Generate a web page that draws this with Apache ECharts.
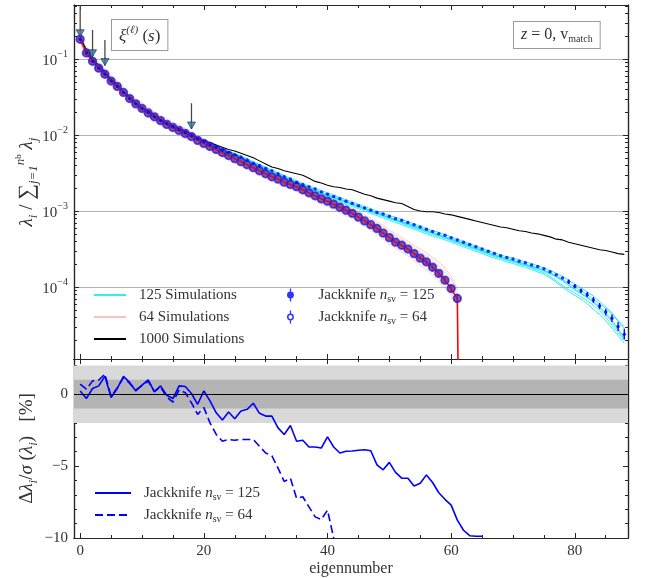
<!DOCTYPE html>
<html><head><meta charset="utf-8">
<script src="https://cdn.jsdelivr.net/npm/echarts@6/dist/echarts.min.js"></script>
<style>html,body{margin:0;padding:0;background:#fff}#c{width:648px;height:578px}</style>
</head><body><div id="c"></div>
<script>
// ---------------- DATA (log10 of normalised eigenvalue, index = eigennumber) ----------------
const sim1000Log = [-0.72,-0.88,-1.00,-1.08,-1.17,-1.27,-1.33,-1.43,-1.50,-1.58,-1.64,-1.69,-1.74,-1.80,-1.84,-1.88,-1.92,-1.95,-1.99,-2.05,-2.08,-2.10,-2.13,-2.16,-2.19,-2.21,-2.24,-2.27,-2.30,-2.34,-2.38,-2.42,-2.44,-2.47,-2.49,-2.51,-2.53,-2.57,-2.61,-2.63,-2.66,-2.68,-2.69,-2.71,-2.72,-2.75,-2.78,-2.80,-2.83,-2.85,-2.87,-2.89,-2.90,-2.94,-2.98,-3.00,-3.01,-3.01,-3.02,-3.04,-3.05,-3.07,-3.09,-3.11,-3.13,-3.15,-3.17,-3.19,-3.21,-3.22,-3.24,-3.26,-3.27,-3.29,-3.30,-3.32,-3.34,-3.37,-3.38,-3.41,-3.43,-3.45,-3.47,-3.49,-3.51,-3.52,-3.54,-3.56,-3.57];
const jack125Log = [-0.74,-0.92,-1.03,-1.12,-1.20,-1.29,-1.36,-1.44,-1.52,-1.59,-1.65,-1.70,-1.76,-1.81,-1.85,-1.89,-1.93,-1.97,-2.01,-2.05,-2.09,-2.13,-2.16,-2.20,-2.23,-2.26,-2.29,-2.33,-2.37,-2.40,-2.44,-2.47,-2.51,-2.55,-2.58,-2.62,-2.65,-2.68,-2.71,-2.75,-2.78,-2.81,-2.84,-2.87,-2.90,-2.93,-2.96,-2.99,-3.02,-3.04,-3.07,-3.10,-3.12,-3.15,-3.18,-3.21,-3.24,-3.27,-3.30,-3.32,-3.35,-3.38,-3.41,-3.44,-3.47,-3.50,-3.53,-3.56,-3.59,-3.61,-3.63,-3.66,-3.68,-3.71,-3.73,-3.76,-3.80,-3.84,-3.88,-3.93,-3.99,-4.05,-4.10,-4.17,-4.25,-4.33,-4.41,-4.52,-4.62];
const jack64Log = [-0.74,-0.92,-1.03,-1.12,-1.20,-1.29,-1.36,-1.44,-1.52,-1.59,-1.65,-1.71,-1.76,-1.81,-1.86,-1.90,-1.94,-1.98,-2.02,-2.07,-2.11,-2.15,-2.19,-2.23,-2.27,-2.31,-2.35,-2.39,-2.43,-2.47,-2.51,-2.55,-2.58,-2.62,-2.65,-2.68,-2.72,-2.76,-2.80,-2.84,-2.87,-2.91,-2.95,-2.99,-3.03,-3.08,-3.13,-3.18,-3.23,-3.29,-3.35,-3.41,-3.45,-3.50,-3.56,-3.62,-3.67,-3.74,-3.82,-3.91,-4.02,-4.15];
const mean64Tail = [1e-12]; // eigenvalue collapses to ~0 after the last one
// jackknife error bars (half width in dex) for the tail points where they are visible
const jack125ErrFrom = 79;
const jack125ErrLog = [0.03,0.03,0.03,0.035,0.04,0.04,0.045,0.05,0.06,0.07];
const jack64ErrFrom = 55;
const jack64ErrLog = [0.025,0.03,0.03,0.035,0.04,0.05,0.06,0.09];
const sim125aLog = [-0.72,-0.89,-1.01,-1.10,-1.19,-1.27,-1.35,-1.43,-1.51,-1.58,-1.64,-1.70,-1.75,-1.80,-1.84,-1.88,-1.92,-1.96,-2.00,-2.04,-2.08,-2.12,-2.15,-2.19,-2.22,-2.26,-2.29,-2.33,-2.37,-2.40,-2.44,-2.48,-2.52,-2.56,-2.59,-2.63,-2.66,-2.69,-2.72,-2.76,-2.79,-2.82,-2.85,-2.88,-2.91,-2.94,-2.97,-3.00,-3.03,-3.06,-3.09,-3.12,-3.14,-3.17,-3.20,-3.23,-3.26,-3.29,-3.32,-3.34,-3.37,-3.40,-3.43,-3.46,-3.49,-3.52,-3.55,-3.58,-3.61,-3.63,-3.65,-3.68,-3.70,-3.73,-3.75,-3.78,-3.82,-3.86,-3.91,-3.97,-4.03,-4.08,-4.13,-4.19,-4.26,-4.34,-4.43,-4.55,-4.66];
const sim125bLog = [-0.70,-0.87,-1.00,-1.09,-1.17,-1.26,-1.34,-1.42,-1.50,-1.57,-1.63,-1.69,-1.74,-1.79,-1.84,-1.88,-1.92,-1.96,-2.00,-2.04,-2.07,-2.11,-2.14,-2.18,-2.21,-2.25,-2.28,-2.32,-2.36,-2.39,-2.43,-2.47,-2.50,-2.54,-2.58,-2.62,-2.65,-2.68,-2.72,-2.75,-2.78,-2.81,-2.84,-2.87,-2.90,-2.93,-2.96,-2.99,-3.02,-3.05,-3.08,-3.11,-3.14,-3.16,-3.19,-3.22,-3.25,-3.28,-3.31,-3.34,-3.36,-3.39,-3.42,-3.45,-3.48,-3.51,-3.54,-3.57,-3.60,-3.62,-3.65,-3.67,-3.70,-3.72,-3.75,-3.78,-3.81,-3.85,-3.90,-3.95,-4.00,-4.05,-4.10,-4.16,-4.22,-4.28,-4.36,-4.45,-4.55];
const sim125cLog = [-0.73,-0.90,-1.02,-1.11,-1.20,-1.28,-1.36,-1.44,-1.52,-1.59,-1.65,-1.71,-1.76,-1.81,-1.85,-1.89,-1.93,-1.97,-2.01,-2.05,-2.09,-2.13,-2.17,-2.20,-2.24,-2.27,-2.31,-2.35,-2.38,-2.42,-2.46,-2.50,-2.53,-2.57,-2.61,-2.64,-2.67,-2.71,-2.74,-2.77,-2.80,-2.83,-2.86,-2.89,-2.92,-2.95,-2.98,-3.01,-3.04,-3.07,-3.10,-3.13,-3.16,-3.19,-3.22,-3.25,-3.28,-3.31,-3.33,-3.36,-3.39,-3.42,-3.45,-3.48,-3.51,-3.54,-3.57,-3.60,-3.62,-3.65,-3.67,-3.70,-3.72,-3.75,-3.78,-3.81,-3.86,-3.92,-3.98,-4.03,-4.08,-4.13,-4.18,-4.24,-4.31,-4.40,-4.50,-4.60,-4.70];
const sim125dLog = [-0.71,-0.88,-1.01,-1.10,-1.18,-1.27,-1.35,-1.43,-1.51,-1.58,-1.64,-1.70,-1.75,-1.80,-1.85,-1.89,-1.93,-1.97,-2.01,-2.05,-2.08,-2.12,-2.16,-2.19,-2.23,-2.26,-2.30,-2.34,-2.37,-2.41,-2.45,-2.49,-2.52,-2.55,-2.59,-2.63,-2.66,-2.70,-2.73,-2.76,-2.79,-2.82,-2.85,-2.88,-2.91,-2.94,-2.97,-3.00,-3.03,-3.06,-3.09,-3.12,-3.15,-3.18,-3.21,-3.24,-3.27,-3.29,-3.32,-3.35,-3.38,-3.41,-3.44,-3.47,-3.50,-3.53,-3.56,-3.59,-3.61,-3.64,-3.66,-3.69,-3.71,-3.74,-3.76,-3.79,-3.83,-3.87,-3.92,-3.98,-4.04,-4.09,-4.14,-4.20,-4.28,-4.36,-4.46,-4.57,-4.68];
const sim125eLog = [-0.71,-0.87,-0.99,-1.08,-1.16,-1.25,-1.33,-1.41,-1.49,-1.56,-1.62,-1.68,-1.73,-1.78,-1.83,-1.87,-1.91,-1.95,-1.99,-2.03,-2.07,-2.11,-2.14,-2.18,-2.21,-2.24,-2.28,-2.31,-2.35,-2.39,-2.42,-2.46,-2.50,-2.53,-2.57,-2.60,-2.64,-2.67,-2.70,-2.73,-2.76,-2.79,-2.82,-2.85,-2.88,-2.91,-2.94,-2.97,-3.00,-3.03,-3.06,-3.08,-3.11,-3.14,-3.17,-3.20,-3.23,-3.26,-3.28,-3.31,-3.34,-3.37,-3.40,-3.43,-3.46,-3.49,-3.52,-3.55,-3.58,-3.60,-3.62,-3.64,-3.67,-3.69,-3.72,-3.75,-3.78,-3.82,-3.86,-3.91,-3.96,-4.01,-4.06,-4.12,-4.19,-4.26,-4.34,-4.44,-4.52];
const sim125fLog = [-0.75,-0.93,-1.05,-1.14,-1.22,-1.30,-1.38,-1.46,-1.54,-1.61,-1.67,-1.73,-1.78,-1.83,-1.87,-1.91,-1.95,-1.99,-2.03,-2.07,-2.11,-2.15,-2.19,-2.22,-2.26,-2.29,-2.33,-2.37,-2.40,-2.44,-2.48,-2.52,-2.55,-2.59,-2.63,-2.66,-2.69,-2.72,-2.76,-2.79,-2.82,-2.85,-2.88,-2.91,-2.94,-2.97,-3.00,-3.03,-3.06,-3.09,-3.12,-3.15,-3.18,-3.21,-3.24,-3.27,-3.30,-3.33,-3.35,-3.38,-3.41,-3.44,-3.47,-3.50,-3.53,-3.56,-3.59,-3.62,-3.64,-3.67,-3.69,-3.72,-3.74,-3.77,-3.80,-3.83,-3.88,-3.94,-4.00,-4.06,-4.11,-4.16,-4.22,-4.29,-4.36,-4.44,-4.54,-4.64,-4.74];
const sim64aLog = [-0.70,-0.87,-0.99,-1.08,-1.16,-1.25,-1.33,-1.40,-1.48,-1.56,-1.62,-1.67,-1.73,-1.78,-1.83,-1.87,-1.91,-1.95,-1.99,-2.04,-2.08,-2.12,-2.16,-2.19,-2.23,-2.27,-2.31,-2.35,-2.39,-2.43,-2.47,-2.51,-2.55,-2.58,-2.61,-2.65,-2.69,-2.72,-2.76,-2.80,-2.83,-2.87,-2.91,-2.95,-2.99,-3.03,-3.08,-3.12,-3.17,-3.22,-3.28,-3.33,-3.38,-3.43,-3.48,-3.54,-3.59,-3.65,-3.72,-3.80,-3.90,-4.05];
const sim64bLog = [-0.75,-0.93,-1.05,-1.14,-1.22,-1.31,-1.38,-1.46,-1.54,-1.61,-1.67,-1.73,-1.78,-1.83,-1.88,-1.92,-1.96,-2.00,-2.05,-2.10,-2.14,-2.18,-2.22,-2.26,-2.30,-2.34,-2.38,-2.42,-2.46,-2.50,-2.54,-2.58,-2.61,-2.65,-2.68,-2.72,-2.76,-2.80,-2.84,-2.88,-2.91,-2.95,-2.99,-3.03,-3.07,-3.12,-3.17,-3.22,-3.27,-3.33,-3.39,-3.45,-3.50,-3.55,-3.61,-3.67,-3.73,-3.80,-3.88,-3.97,-4.07,-4.20];
const sim64cLog = [-0.72,-0.88,-1.00,-1.10,-1.17,-1.25,-1.34,-1.43,-1.50,-1.56,-1.63,-1.70,-1.76,-1.80,-1.84,-1.90,-1.95,-1.98,-2.01,-2.05,-2.10,-2.14,-2.18,-2.22,-2.26,-2.30,-2.34,-2.38,-2.42,-2.46,-2.50,-2.54,-2.57,-2.61,-2.65,-2.68,-2.71,-2.75,-2.79,-2.83,-2.87,-2.90,-2.94,-2.98,-3.02,-3.06,-3.11,-3.16,-3.21,-3.27,-3.32,-3.38,-3.44,-3.49,-3.54,-3.60,-3.66,-3.72,-3.79,-3.87,-3.97,-4.10];
const sim64dLog = [-0.73,-0.90,-1.03,-1.12,-1.21,-1.28,-1.35,-1.44,-1.53,-1.60,-1.66,-1.71,-1.75,-1.82,-1.87,-1.90,-1.93,-1.97,-2.03,-2.08,-2.12,-2.16,-2.20,-2.24,-2.28,-2.32,-2.36,-2.40,-2.44,-2.48,-2.52,-2.56,-2.59,-2.63,-2.66,-2.70,-2.74,-2.78,-2.82,-2.85,-2.89,-2.93,-2.97,-3.01,-3.05,-3.10,-3.14,-3.19,-3.25,-3.31,-3.36,-3.42,-3.47,-3.52,-3.58,-3.64,-3.70,-3.77,-3.85,-3.93,-4.04,-4.16];
const sim64eLog = [-0.69,-0.85,-0.97,-1.05,-1.13,-1.22,-1.30,-1.37,-1.45,-1.52,-1.58,-1.63,-1.69,-1.74,-1.79,-1.83,-1.87,-1.91,-1.96,-2.01,-2.05,-2.09,-2.13,-2.17,-2.21,-2.25,-2.29,-2.33,-2.37,-2.41,-2.45,-2.49,-2.52,-2.56,-2.59,-2.62,-2.66,-2.70,-2.74,-2.77,-2.80,-2.84,-2.88,-2.92,-2.96,-3.00,-3.05,-3.10,-3.14,-3.19,-3.25,-3.30,-3.35,-3.40,-3.45,-3.50,-3.55,-3.61,-3.67,-3.75,-3.86,-4.02];
const sim64fLog = [-0.78,-0.97,-1.08,-1.17,-1.25,-1.34,-1.41,-1.49,-1.57,-1.64,-1.70,-1.76,-1.81,-1.86,-1.91,-1.96,-2.00,-2.04,-2.08,-2.13,-2.17,-2.21,-2.25,-2.29,-2.33,-2.37,-2.41,-2.45,-2.49,-2.53,-2.57,-2.61,-2.64,-2.68,-2.71,-2.74,-2.78,-2.82,-2.86,-2.90,-2.94,-2.98,-3.02,-3.06,-3.10,-3.15,-3.20,-3.25,-3.31,-3.37,-3.43,-3.49,-3.54,-3.59,-3.65,-3.71,-3.77,-3.84,-3.92,-4.01,-4.11,-4.24];
// residuals (lower panel), percent
const resid125 = [0.23,-0.30,0.40,0.58,1.25,-0.23,0.40,1.24,0.82,0.23,0.63,1.00,0.16,0.58,-0.07,-0.30,0.58,0.54,0.05,-0.70,0.23,-0.47,-1.29,-1.80,-1.24,-1.71,-1.17,-1.05,-0.63,-1.33,-1.52,-1.52,-2.34,-2.80,-2.17,-3.27,-3.20,-3.67,-3.67,-3.74,-2.97,-3.67,-4.09,-3.97,-3.95,-3.90,-3.86,-3.93,-4.91,-5.26,-4.74,-5.44,-5.84,-5.84,-6.38,-6.19,-5.61,-6.14,-6.85,-7.31,-7.71,-8.76,-9.46,-9.84,-9.88,-9.88];
const resid64 = [0.70,0.35,0.93,0.98,1.40,-0.15,0.45,1.15,0.75,0.30,0.60,0.90,0.20,0.50,-0.20,-0.55,0.30,0.10,-0.60,-1.40,-0.93,-1.99,-2.80,-3.27,-3.15,-3.20,-3.15,-3.15,-3.15,-3.62,-4.09,-4.28,-5.14,-6.07,-5.84,-7.24,-7.13,-7.83,-8.53,-8.71,-8.06,-10.0];
// arrows marking selected eigennumbers
const arrowEig = [0, 2, 4, 18];
const arrowFrom = [0.514, 0.241, 0.178, 0.0261];
const arrowTip = [0.196, 0.107, 0.082, 0.0120];
// ticks
const xMajor = [0, 20, 40, 60, 80];
const xMinor = [5, 10, 15, 25, 30, 35, 45, 50, 55, 65, 70, 75, 85];
const yMajorTop = [1e-4, 1e-3, 1e-2, 1e-1];
const yMinorTop = [2e-5,3e-5,4e-5,5e-5,6e-5,7e-5,8e-5,9e-5,2e-4,3e-4,4e-4,5e-4,6e-4,7e-4,8e-4,9e-4,2e-3,3e-3,4e-3,5e-3,6e-3,7e-3,8e-3,9e-3,2e-2,3e-2,4e-2,5e-2,6e-2,7e-2,8e-2,9e-2,0.2,0.3,0.4,0.5];
const yMajorBot = [-10, -5, 0];
const yMinorBot = [-9, -8, -7, -6, -4, -3, -2, -1, 1, 2];

// ---------------- CHART ----------------
const FONT = '"Liberation Serif","Times New Roman",serif';
const AX = '#262626';
const TXT = '#333';
const toPts = arr => arr.map((e, i) => [i, Math.pow(10, e)]);
const toLin = arr => arr.map((v, i) => [i, v]);
const toErr = (vals, from, errs) => errs.map((e, k) => [from + k, Math.pow(10, vals[from + k] - e), Math.pow(10, vals[from + k] + e)]);

function xAx(grid, pos, major, labels, name) {
  return {
    type: 'value', gridIndex: grid, min: -1, max: 88.6, position: pos,
    axisLine: {show: true, onZero: false, lineStyle: {color: AX, width: 1.2}},
    axisTick: {show: true, inside: true, customValues: major ? xMajor : xMinor, length: major ? 5 : 3, lineStyle: {color: AX, width: 1}},
    axisLabel: {show: !!labels, customValues: xMajor, margin: 6, color: TXT, fontFamily: FONT, fontSize: 15},
    splitLine: {show: false},
    name: name || '', nameLocation: 'middle', nameGap: 23, nameMoveOverlap: false,
    nameTextStyle: {color: TXT, fontFamily: FONT, fontSize: 16}
  };
}
const subR = {fontFamily: FONT, fontSize: 10, lineHeight: 10, verticalAlign: 'bottom', color: TXT};
const supR = {fontFamily: FONT, fontSize: 10, lineHeight: 8, verticalAlign: 'top', color: TXT};
const nameRich = {
  m: {fontFamily: FONT, fontStyle: 'italic', fontSize: 19, lineHeight: 26, color: TXT},
  r: {fontFamily: FONT, fontSize: 19, lineHeight: 26, color: TXT},
  big: {fontFamily: FONT, fontSize: 22, lineHeight: 26, color: TXT},
  sb: {fontFamily: FONT, fontStyle: 'italic', fontSize: 13, lineHeight: 14, verticalAlign: 'bottom', color: TXT},
  sp: {fontFamily: FONT, fontStyle: 'italic', fontSize: 13, lineHeight: 14, verticalAlign: 'top', color: TXT},
  sps: {fontFamily: FONT, fontSize: 9, lineHeight: 18, verticalAlign: 'top', color: TXT}
};
function yTop(pos, major, labels, name) {
  return {
    type: 'log', logBase: 10, gridIndex: 0, min: 1.13e-5, max: 0.514, position: pos,
    axisLine: {show: true, onZero: false, lineStyle: {color: AX, width: 1.2}},
    axisTick: {show: true, inside: true, customValues: major ? yMajorTop : yMinorTop, length: major ? 5 : 3, lineStyle: {color: AX, width: 1}},
    axisLabel: {show: !!labels, customValues: yMajorTop, margin: 6, color: TXT, fontFamily: FONT, fontSize: 15,
      formatter: v => { const e = Math.round(Math.log10(v)); return '{b|10}{sp|' + (e < 0 ? '\u2212' : '') + Math.abs(e) + '}'; },
      rich: {b: {fontFamily: FONT, fontSize: 15, lineHeight: 20, verticalAlign: 'bottom', color: TXT}, sp: supR}},
    splitLine: {show: !!labels, lineStyle: {color: '#b4b4b4', width: 1}},
    name: name || '', nameLocation: 'middle', nameGap: 34, nameRotate: 90, nameMoveOverlap: false,
    nameTextStyle: {color: TXT, fontFamily: FONT, fontSize: 19, rich: nameRich}
  };
}
function yBot(pos, major, labels, name) {
  return {
    type: 'value', gridIndex: 1, min: -10, max: 2.45, position: pos,
    axisLine: {show: true, onZero: false, lineStyle: {color: AX, width: 1.2}},
    axisTick: {show: true, inside: true, customValues: major ? yMajorBot : yMinorBot, length: major ? 5 : 3, lineStyle: {color: AX, width: 1}},
    axisLabel: {show: !!labels, customValues: yMajorBot, margin: 6, color: TXT, fontFamily: FONT, fontSize: 15,
      formatter: v => (v < 0 ? '\u2212' + Math.abs(v) : String(v))},
    splitLine: {show: false},
    name: name || '', nameLocation: 'middle', nameGap: 34, nameRotate: 90, nameMoveOverlap: false,
    nameTextStyle: {color: TXT, fontFamily: FONT, fontSize: 18, rich: nameRich}
  };
}

const topName = '{m|λ}{sb|i}{r| / }{big|∑}{sb|j=1}{sp|n}{sps|b}{r| }{m|λ}{sb|j}';
const botName = '{r|Δ}{m|λ}{sb|i}{r|/}{m|σ}{r| (}{m|λ}{sb|i}{r|)   [%]}';

const series = [];
const cyan = {color: 'rgba(20,230,240,0.85)', width: 1};
const pink = {color: 'rgba(250,120,120,0.45)', width: 0.9};
[sim64aLog, sim64bLog, sim64cLog, sim64dLog, sim64eLog, sim64fLog].forEach(a => series.push({
  type: 'line', name: '64 Simulations', xAxisIndex: 0, yAxisIndex: 0, data: toPts(a), symbol: 'none', lineStyle: pink, itemStyle: {color: pink.color}, z: 2}));
[sim125aLog, sim125bLog, sim125cLog, sim125dLog, sim125eLog, sim125fLog].forEach(a => series.push({
  type: 'line', name: '125 Simulations', xAxisIndex: 0, yAxisIndex: 0, data: toPts(a), symbol: 'none', lineStyle: cyan, itemStyle: {color: cyan.color}, z: 2}));
series.push({type: 'line', name: '1000 Simulations', xAxisIndex: 0, yAxisIndex: 0, data: toPts(sim1000Log), symbol: 'none',
  lineStyle: {color: '#000', width: 1.1}, itemStyle: {color: '#000'}, z: 3});
series.push({type: 'line', name: 'mean64', xAxisIndex: 0, yAxisIndex: 0,
  data: toPts(jack64Log).concat(mean64Tail.map((v, k) => [jack64Log.length + k, v])), symbol: 'none',
  lineStyle: {color: '#ff0000', width: 1.6}, z: 3});
const errBar = (name, pts, color) => ({
  type: 'custom', name: name, xAxisIndex: 0, yAxisIndex: 0, data: pts, z: 4,
  renderItem: (params, api) => {
    const a = api.coord([api.value(0), api.value(1)]);
    const b = api.coord([api.value(0), api.value(2)]);
    return {type: 'line', shape: {x1: a[0], y1: a[1], x2: b[0], y2: b[1]}, style: {stroke: color, lineWidth: 1.3}};
  }
});
series.push(errBar('err64', toErr(jack64Log, jack64ErrFrom, jack64ErrLog), '#1d1dff'));
series.push(errBar('err125', toErr(jack125Log, jack125ErrFrom, jack125ErrLog), '#0000ff'));
series.push({type: 'scatter', name: 'Jackknife n_sv = 64', xAxisIndex: 0, yAxisIndex: 0, data: toPts(jack64Log), symbol: 'circle', symbolSize: 7.5,
  itemStyle: {color: '#922068', borderColor: '#2020e6', borderWidth: 1.8}, z: 4});
series.push({type: 'scatter', name: 'Jackknife n_sv = 125', xAxisIndex: 0, yAxisIndex: 0, data: toPts(jack125Log), symbol: 'circle', symbolSize: 3.5,
  itemStyle: {color: '#0000ff'}, z: 5});
arrowEig.forEach((x, k) => {
  series.push({type: 'line', name: 'arrow' + k, xAxisIndex: 0, yAxisIndex: 0, data: [[x, arrowFrom[k]], [x, arrowTip[k]]], symbol: 'none',
    lineStyle: {color: '#4a4a4a', width: 1.3}, z: 6});
});
series.push({type: 'scatter', name: 'arrowheads', xAxisIndex: 0, yAxisIndex: 0, data: arrowEig.map((x, k) => [x, arrowTip[k]]),
  symbol: 'triangle', symbolRotate: 180, symbolSize: [8, 7], symbolOffset: [0, -3.5],
  itemStyle: {color: '#2b78b6', borderColor: '#222', borderWidth: 0.8}, z: 7});
// lower panel
series.push({type: 'line', name: 'bands', xAxisIndex: 4, yAxisIndex: 4, data: [[0, 0]], symbol: 'none', lineStyle: {opacity: 0}, z: 1,
  markArea: {silent: true, data: [
    [{yAxis: -2, itemStyle: {color: '#d9d9d9'}}, {yAxis: 2}],
    [{yAxis: -1, itemStyle: {color: '#b4b4b4'}}, {yAxis: 1}]]},
  markLine: {silent: true, symbol: 'none', label: {show: false}, lineStyle: {color: '#000', width: 1.1, type: 'solid'}, data: [{yAxis: 0}]}});
series.push({type: 'line', name: 'res125', xAxisIndex: 4, yAxisIndex: 4, data: toLin(resid125), symbol: 'none',
  lineStyle: {color: '#0000ff', width: 1.6}, itemStyle: {color: '#0000ff'}, z: 3});
series.push({type: 'line', name: 'res64', xAxisIndex: 4, yAxisIndex: 4, data: toLin(resid64), symbol: 'none',
  lineStyle: {color: '#0000ff', width: 1.6, type: [8, 4]}, itemStyle: {color: '#0000ff'}, z: 3});

const legText = {color: TXT, fontFamily: FONT, fontSize: 15, lineHeight: 18,
  rich: {it: {fontFamily: FONT, fontStyle: 'italic', fontSize: 15, lineHeight: 18, color: TXT}, sb: subR}};
const jkLabel = name => {
  const n = name.indexOf('125') >= 0 ? '125' : '64';
  return 'Jackknife {it|n}{sb|sv} = ' + n;
};
const iconFilled = 'path://M4.4,0L5.6,0L5.6,12L4.4,12Z M8.2,6A3.2,3.2,0,1,1,1.8,6A3.2,3.2,0,1,1,8.2,6Z';
const iconOpen = 'path://M4.4,0L5.6,0L5.6,3L4.4,3Z M4.4,9L5.6,9L5.6,12L4.4,12Z M8.2,6A3.2,3.2,0,1,1,1.8,6A3.2,3.2,0,1,1,8.2,6Z M6.8,6A1.8,1.8,0,1,0,3.2,6A1.8,1.8,0,1,0,6.8,6Z';

const option = {
  animation: false,
  backgroundColor: '#fff',
  grid: [
    {left: 74, top: 5, width: 554, height: 354},
    {left: 74, top: 359, width: 554, height: 179}
  ],
  xAxis: [
    xAx(0, 'bottom', true, false), xAx(0, 'bottom', false, false), xAx(0, 'top', true, false), xAx(0, 'top', false, false),
    xAx(1, 'bottom', true, true, 'eigennumber'), xAx(1, 'bottom', false, false), xAx(1, 'top', true, false), xAx(1, 'top', false, false)
  ],
  yAxis: [
    yTop('left', true, true, topName), yTop('left', false, false), yTop('right', true, false), yTop('right', false, false),
    yBot('left', true, true, botName), yBot('left', false, false), yBot('right', true, false), yBot('right', false, false)
  ],
  legend: [
    {data: ['125 Simulations', '64 Simulations', '1000 Simulations'], orient: 'vertical', left: 88, top: 281,
     itemWidth: 32, itemHeight: 10, itemGap: 4, selectedMode: false, itemStyle: {opacity: 0},
     textStyle: Object.assign({padding: [0, 0, 0, 8]}, legText)},
    {data: [{name: 'Jackknife n_sv = 125', icon: iconFilled, itemStyle: {color: '#0000ff', borderWidth: 0}},
            {name: 'Jackknife n_sv = 64', icon: iconOpen, itemStyle: {color: '#0000ff', borderWidth: 0}}],
     orient: 'vertical', left: 282, top: 281, itemWidth: 10, itemHeight: 13, itemGap: 4, selectedMode: false,
     formatter: jkLabel, textStyle: Object.assign({padding: [0, 0, 0, 18]}, legText)},
    {data: ['res125', 'res64'], orient: 'vertical', left: 89, top: 479, itemWidth: 36, itemHeight: 10, itemGap: 4, selectedMode: false,
     itemStyle: {opacity: 0}, formatter: jkLabel, textStyle: Object.assign({padding: [0, 0, 0, 8]}, legText)}
  ],
  graphic: [
    {type: 'text', left: 111, top: 19, z: 100, style: {
      text: '{g|ξ}{s|(ℓ)}{n| (}{g|s}{n|)}', fill: TXT, backgroundColor: '#fff', borderColor: '#9a9a9a', borderWidth: 1, padding: [5, 7, 5, 7],
      rich: {g: {fontFamily: FONT, fontStyle: 'italic', fontSize: 17, lineHeight: 20, fill: TXT, verticalAlign: 'bottom'},
             n: {fontFamily: FONT, fontSize: 17, lineHeight: 20, fill: TXT, verticalAlign: 'bottom'},
             s: {fontFamily: FONT, fontStyle: 'italic', fontSize: 11, lineHeight: 10, fill: TXT, verticalAlign: 'top'}}}},
    {type: 'text', left: 513, top: 21, z: 100, style: {
      text: '{g|z}{n| = 0, v}{s|match}', fill: TXT, backgroundColor: '#fff', borderColor: '#9a9a9a', borderWidth: 1, padding: [4, 7, 4, 7],
      rich: {g: {fontFamily: FONT, fontStyle: 'italic', fontSize: 16, lineHeight: 18, fill: TXT},
             n: {fontFamily: FONT, fontSize: 16, lineHeight: 18, fill: TXT},
             s: {fontFamily: FONT, fontSize: 10, lineHeight: 8, fill: TXT, verticalAlign: 'bottom'}}}}
  ],
  series: series
};
const chart = echarts.init(document.getElementById('c'), null, {renderer: 'canvas'});
chart.setOption(option);
</script>
</body></html>
